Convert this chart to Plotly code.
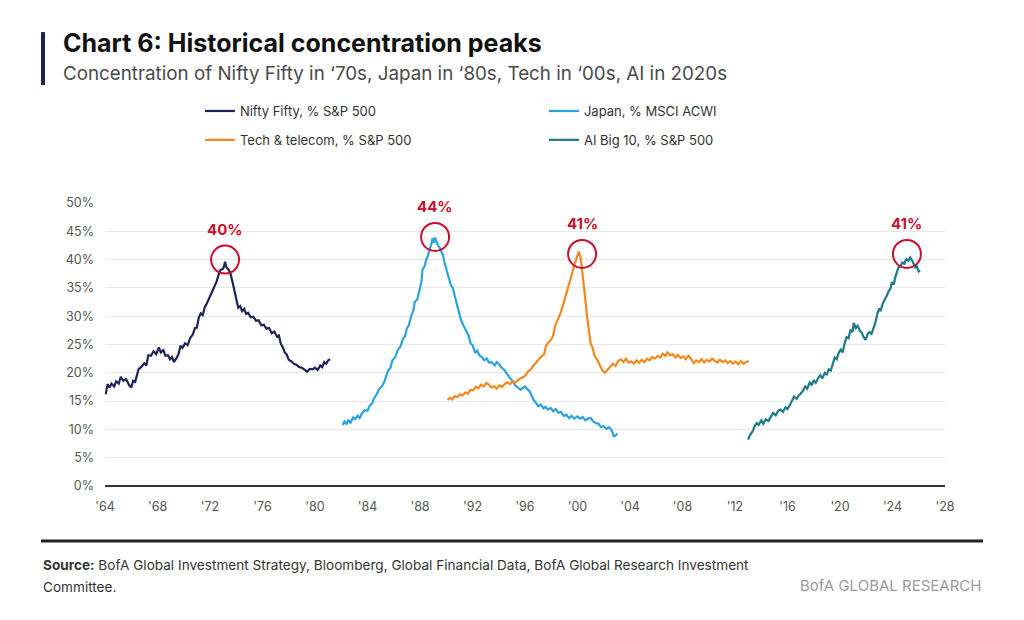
import plotly.graph_objects as go

# --- data (decimal years, % share) ---
nifty_x = [1964.05, 1964.2, 1964.35, 1964.5, 1964.7, 1964.85, 1965.05, 1965.2, 1965.4, 1965.6, 1965.85,
           1966.0, 1966.15, 1966.3, 1966.55, 1966.75, 1967.0, 1967.15, 1967.3, 1967.5, 1967.7, 1967.9,
           1968.1, 1968.25, 1968.45, 1968.6, 1968.8, 1968.95, 1969.1, 1969.25, 1969.45, 1969.6, 1969.75,
           1969.9, 1970.1, 1970.3, 1970.5, 1970.7, 1970.85, 1971.0, 1971.15, 1971.3, 1971.45, 1971.6,
           1971.75, 1971.9, 1972.05, 1972.2, 1972.35, 1972.5, 1972.65, 1972.8, 1972.95, 1973.05, 1973.15,
           1973.25, 1973.4, 1973.55, 1973.7, 1973.85, 1974.0, 1974.15, 1974.3, 1974.45, 1974.6, 1974.75,
           1974.9, 1975.1, 1975.3, 1975.5, 1975.7, 1975.9, 1976.1, 1976.3, 1976.5, 1976.7, 1976.9, 1977.1,
           1977.25, 1977.4, 1977.55, 1977.7, 1977.85, 1978.0, 1978.2, 1978.4, 1978.6, 1978.8, 1979.0,
           1979.2, 1979.4, 1979.6, 1979.8, 1980.0, 1980.2, 1980.4, 1980.55, 1980.7, 1980.85, 1981.0, 1981.15]
nifty_y = [16.2, 18.0, 17.4, 18.1, 17.6, 18.5, 18.1, 19.3, 18.6, 18.9, 17.8,
           17.4, 18.6, 18.4, 20.6, 21.0, 21.7, 21.3, 23.1, 23.0, 23.8, 23.3,
           24.5, 23.6, 24.0, 23.0, 23.1, 22.4, 22.8, 21.9, 22.6, 23.3, 24.8,
           24.4, 25.2, 24.9, 26.2, 26.8, 27.9, 28.0, 29.8, 30.5, 30.2, 31.6,
           32.2, 33.0, 34.0, 34.5, 35.6, 36.1, 37.3, 38.2, 38.3, 38.7, 39.6,
           38.6, 38.3, 37.6, 36.2, 34.6, 33.0, 31.5, 31.8, 30.9, 31.3, 30.4,
           30.6, 29.8, 29.9, 29.2, 29.3, 28.4, 28.5, 27.8, 27.9, 27.0, 27.3, 26.4,
           26.6, 25.1, 24.5, 23.6, 23.2, 22.3, 22.0, 21.6, 21.4, 21.0, 20.9,
           20.6, 20.2, 20.7, 20.6, 20.9, 20.5, 21.3, 21.0, 21.9, 21.6, 22.2, 22.4]

japan_x = [1982.1, 1982.25, 1982.4, 1982.55, 1982.7, 1982.9, 1983.05, 1983.25, 1983.4, 1983.6, 1983.8,
           1984.0, 1984.15, 1984.35, 1984.5, 1984.7, 1984.9, 1985.1, 1985.3, 1985.45, 1985.55, 1985.75,
           1985.9, 1986.1, 1986.3, 1986.5, 1986.7, 1986.85, 1987.0, 1987.15, 1987.35, 1987.5, 1987.6,
           1987.8, 1988.0, 1988.1, 1988.2, 1988.35, 1988.5, 1988.6, 1988.75, 1988.85, 1988.95, 1989.05,
           1989.15, 1989.25, 1989.35, 1989.5, 1989.6, 1989.75, 1989.9, 1990.05, 1990.2, 1990.35, 1990.5,
           1990.65, 1990.8, 1990.95, 1991.1, 1991.3, 1991.5, 1991.7, 1991.85, 1992.0, 1992.2, 1992.35,
           1992.55, 1992.7, 1992.9, 1993.1, 1993.25, 1993.45, 1993.7, 1993.85, 1994.0, 1994.2, 1994.35,
           1994.55, 1994.75, 1994.95, 1995.1, 1995.25, 1995.45, 1995.65, 1995.8, 1996.0, 1996.15, 1996.3,
           1996.5, 1996.65, 1996.8, 1997.0, 1997.2, 1997.4, 1997.55, 1997.75, 1997.95, 1998.15, 1998.35,
           1998.55, 1998.75, 1998.95, 1999.15, 1999.35, 1999.55, 1999.75, 2000.0, 2000.2, 2000.4, 2000.6,
           2000.8, 2001.0, 2001.2, 2001.4, 2001.6, 2001.8, 2002.0, 2002.2, 2002.4, 2002.6, 2002.75,
           2002.9, 2003.05]
japan_y = [10.8, 11.4, 10.9, 11.7, 11.1, 12.1, 11.8, 12.4, 12.0, 12.9, 13.4,
           13.3, 14.1, 14.6, 15.5, 16.2, 17.2, 17.6, 18.5, 19.4, 20.3, 20.9,
           22.2, 22.7, 24.0, 24.6, 26.0, 26.4, 27.9, 28.4, 30.2, 31.0, 32.5,
           33.0, 35.2, 36.0, 38.3, 38.8, 40.2, 40.6, 42.0, 42.6, 43.8, 43.0,
           43.9, 43.2, 42.6, 42.1, 41.5, 40.8, 39.2, 38.0, 37.0, 35.5, 35.0,
           33.5, 32.0, 30.6, 29.5, 28.4, 27.6, 26.6, 25.2, 24.9, 23.5, 23.9,
           23.0, 22.8, 22.2, 22.5, 21.8, 21.9, 21.3, 21.9, 21.6, 20.9, 20.7,
           20.0, 19.3, 18.8, 18.4, 17.8, 17.4, 17.0, 17.3, 17.6, 17.1, 16.9,
           16.0, 15.2, 14.8, 14.1, 14.4, 13.7, 14.0, 13.5, 13.8, 13.2, 13.6,
           12.9, 13.1, 12.4, 12.6, 12.0, 12.4, 11.9, 12.3, 11.9, 12.2, 11.6,
           11.9, 12.0, 11.4, 11.1, 11.0, 10.4, 10.6, 10.1, 10.4, 9.9, 8.8,
           8.9, 9.3]

tech_x = [1990.1, 1990.3, 1990.45, 1990.65, 1990.85, 1991.05, 1991.25, 1991.45, 1991.65, 1991.85,
          1992.05, 1992.25, 1992.45, 1992.65, 1992.85, 1993.05, 1993.25, 1993.45, 1993.65, 1993.85,
          1994.05, 1994.25, 1994.45, 1994.65, 1994.85, 1995.05, 1995.25, 1995.45, 1995.65, 1995.85,
          1996.05, 1996.25, 1996.45, 1996.65, 1996.85, 1997.05, 1997.25, 1997.45, 1997.6, 1997.8,
          1998.0, 1998.15, 1998.3, 1998.5, 1998.7, 1998.9, 1999.05, 1999.2, 1999.35, 1999.5,
          1999.65, 1999.8, 1999.95, 2000.1, 2000.25, 2000.4, 2000.55, 2000.7, 2000.85, 2001.0,
          2001.15, 2001.3, 2001.5, 2001.7, 2001.9, 2002.1, 2002.3, 2002.5, 2002.7, 2002.9,
          2003.1, 2003.3, 2003.5, 2003.7, 2003.9, 2004.1, 2004.3, 2004.5, 2004.7, 2004.9,
          2005.1, 2005.3, 2005.5, 2005.7, 2005.9, 2006.1, 2006.3, 2006.5, 2006.7, 2006.85,
          2007.05, 2007.25, 2007.45, 2007.65, 2007.85, 2008.05, 2008.25, 2008.45, 2008.65, 2008.85,
          2009.05, 2009.25, 2009.45, 2009.65, 2009.85, 2010.05, 2010.25, 2010.45, 2010.65, 2010.85,
          2011.05, 2011.25, 2011.45, 2011.65, 2011.85, 2012.05, 2012.25, 2012.45, 2012.65, 2012.85,
          2013.05]
tech_y = [15.2, 15.6, 15.3, 15.9, 15.7, 16.2, 16.0, 16.5, 16.3, 17.0,
          16.9, 17.5, 17.3, 17.9, 17.6, 18.2, 17.9, 17.4, 17.6, 17.2,
          17.8, 17.5, 18.0, 18.3, 18.0, 18.5, 18.3, 18.7, 19.0, 19.2,
          19.6, 20.3, 20.6, 21.3, 21.8, 22.3, 22.9, 23.2, 24.8, 25.4,
          25.9, 26.6, 28.4, 29.4, 30.5, 32.0, 33.3, 34.6, 35.9, 36.9,
          38.0, 39.3, 40.4, 41.4, 40.2, 37.5, 34.0, 30.5, 27.5, 25.2,
          24.4, 23.0, 22.3, 21.2, 20.4, 20.0, 20.6, 21.0, 21.6, 21.2,
          22.1, 22.4, 21.9, 22.5, 21.8, 22.0, 21.6, 22.2, 21.8, 22.3,
          21.9, 22.5, 22.2, 22.8, 22.5, 23.0, 22.7, 23.4, 23.0, 23.6,
          23.1, 23.3, 22.7, 23.2, 22.6, 22.9, 22.4, 23.0, 22.5, 21.7,
          22.2, 21.9, 22.4, 21.8, 22.3, 22.0, 22.5, 22.1, 21.8, 22.3,
          21.9, 22.2, 21.7, 22.1, 21.6, 22.0, 21.5, 22.1, 21.6, 21.9,
          22.1]

ai_x = [2013.0, 2013.15, 2013.35, 2013.5, 2013.65, 2013.8, 2014.0, 2014.15, 2014.35, 2014.55, 2014.75,
        2014.9, 2015.1, 2015.3, 2015.45, 2015.65, 2015.85, 2016.0, 2016.2, 2016.35, 2016.5, 2016.7,
        2016.85, 2017.0, 2017.2, 2017.35, 2017.5, 2017.7, 2017.85, 2018.0, 2018.15, 2018.35, 2018.5,
        2018.65, 2018.85, 2019.0, 2019.15, 2019.3, 2019.45, 2019.6, 2019.75, 2019.9, 2020.05, 2020.2,
        2020.35, 2020.5, 2020.65, 2020.8, 2020.95, 2021.05, 2021.2, 2021.35, 2021.5, 2021.65, 2021.8,
        2021.95, 2022.1, 2022.25, 2022.4, 2022.55, 2022.7, 2022.85, 2023.0, 2023.1, 2023.25, 2023.4,
        2023.55, 2023.7, 2023.85, 2023.95, 2024.1, 2024.2, 2024.35, 2024.45, 2024.6, 2024.75, 2024.9,
        2025.05, 2025.2, 2025.35, 2025.45, 2025.6, 2025.75, 2025.85, 2026.0, 2026.1]
ai_y = [8.2, 9.0, 9.7, 10.6, 11.1, 10.8, 11.6, 11.0, 11.8, 11.5, 12.3,
        12.9, 12.5, 13.3, 13.5, 13.1, 13.9, 13.6, 14.4, 15.1, 15.8, 15.4,
        16.0, 16.3, 16.9, 17.6, 17.2, 18.3, 17.9, 18.7, 18.2, 19.1, 19.6,
        19.0, 20.0, 19.7, 20.6, 20.4, 21.5, 22.7, 22.4, 23.5, 24.1, 23.6,
        25.2, 26.3, 26.1, 27.6, 27.2, 28.8, 27.9, 28.3, 27.5, 27.1, 26.3,
        25.8, 26.8, 27.2, 26.9, 27.8, 28.9, 30.5, 31.4, 30.9, 32.2, 32.9,
        33.5, 34.4, 34.9, 36.0, 35.6, 36.8, 37.9, 38.6, 38.8, 39.5, 39.3,
        40.1, 39.8, 40.4, 40.0, 39.4, 38.6, 38.8, 37.9, 38.1]

peak_x = [1973.15, 1989.15, 2000.35, 2025.1]
peak_y = [40, 44, 41, 41]
peak_labels = ['40%', '44%', '41%', '41%']

year_ticks = list(range(1964, 2029, 4))
year_labels = ["'" + str(y)[2:] for y in year_ticks]

NAVY, JAPAN, ORANGE, TEAL, RED = '#1d2459', '#2ba3de', '#f08a1f', '#1c7b86', '#c8102e'
FONT = 'Inter'

fig = go.Figure()
fig.add_trace(go.Scatter(x=nifty_x, y=nifty_y, mode='lines', name='Nifty Fifty, % S&P 500',
                         line=dict(color=NAVY, width=2.2), legend='legend'))
fig.add_trace(go.Scatter(x=japan_x, y=japan_y, mode='lines', name='Japan, % MSCI ACWI',
                         line=dict(color=JAPAN, width=2.2), legend='legend'))
fig.add_trace(go.Scatter(x=tech_x, y=tech_y, mode='lines', name='Tech & telecom, % S&P 500',
                         line=dict(color=ORANGE, width=2.2), legend='legend2'))
fig.add_trace(go.Scatter(x=ai_x, y=ai_y, mode='lines', name='AI Big 10, % S&P 500',
                         line=dict(color=TEAL, width=2.2), legend='legend2'))

# red rings round the peaks, plus their labels
for px, py, lab in zip(peak_x, peak_y, peak_labels):
  fig.add_shape(type='circle', xref='x', yref='y', xsizemode='pixel', ysizemode='pixel',
                xanchor=px, yanchor=py, x0=-14, x1=14, y0=-14, y1=14,
                line=dict(color=RED, width=2))
  fig.add_annotation(x=px, y=py, text=f'<b>{lab}</b>', showarrow=False, yshift=30,
                     font=dict(color=RED, size=15, family=FONT))

# header bar + bottom rule (paper coords are relative to the plot box)
fig.add_shape(type='line', xref='paper', yref='paper', x0=-0.0738, x1=-0.0738, y0=1.417, y1=1.604,
              line=dict(color='#1b2157', width=4))
fig.add_shape(type='line', xref='paper', yref='paper', x0=-0.0762, x1=1.0452, y0=-0.194, y1=-0.194,
              line=dict(color='#222222', width=3))

fig.add_annotation(xref='paper', yref='paper', x=-0.0524, y=1.459, xanchor='left', yanchor='middle',
                   text='Concentration of Nifty Fifty in ‘70s, Japan in ‘80s, Tech in ‘00s, AI in 2020s',
                   showarrow=False, font=dict(size=18.8, color='#4a4a4a', family=FONT))
fig.add_annotation(xref='paper', yref='paper', x=-0.0762, y=-0.28, xanchor='left', yanchor='middle',
                   text='<b>Source:</b> BofA Global Investment Strategy, Bloomberg, Global Financial Data, '
                        'BofA Global Research Investment',
                   showarrow=False, font=dict(size=13.6, color='#333333', family=FONT))
fig.add_annotation(xref='paper', yref='paper', x=-0.0762, y=-0.357, xanchor='left', yanchor='middle',
                   text='Committee.', showarrow=False, font=dict(size=13.6, color='#333333', family=FONT))
fig.add_annotation(xref='paper', yref='paper', x=1.0452, y=-0.35, xanchor='right', yanchor='middle',
                   text='BofA GLOBAL RESEARCH', showarrow=False,
                   font=dict(size=15, color='#9a9a9a', family=FONT))

legend_common = dict(orientation='h', xanchor='left', yanchor='middle', entrywidth=299,
                     entrywidthmode='pixels', font=dict(size=13, color='#333333', family=FONT),
                     bgcolor='rgba(0,0,0,0)', itemclick=False, itemdoubleclick=False)

fig.update_layout(
  width=1016, height=612,  # page adds an 8px body margin
  margin=dict(l=97, r=79, t=195, b=134),
  paper_bgcolor='white', plot_bgcolor='white',
  font=dict(family=FONT, size=13, color='#555555'),
  title=dict(text='<b>Chart 6: Historical concentration peaks</b>', xref='container', yref='container',
             x=0.0541, y=0.943, xanchor='left', yanchor='middle',
             font=dict(size=25, color='#111111', family=FONT)),
  legend=dict(x=0.113, y=1.325, **legend_common),
  legend2=dict(x=0.113, y=1.223, **legend_common),
  xaxis=dict(range=[1964, 2028], tickvals=year_ticks, ticktext=year_labels, showgrid=False,
             zeroline=False, showline=False, ticks='', ticklabelstandoff=11,
             tickfont=dict(size=12.5, color='#555555')),
  yaxis=dict(range=[0, 50], dtick=5, ticksuffix='%', showgrid=True, gridcolor='#e8e8e8', gridwidth=1,
             zeroline=True, zerolinecolor='#333333', zerolinewidth=2, showline=False, ticks='',
             ticklabelstandoff=10, tickfont=dict(size=12.5, color='#555555')),
  showlegend=True,
)

fig.write_html('out.html', config={'displayModeBar': False})
